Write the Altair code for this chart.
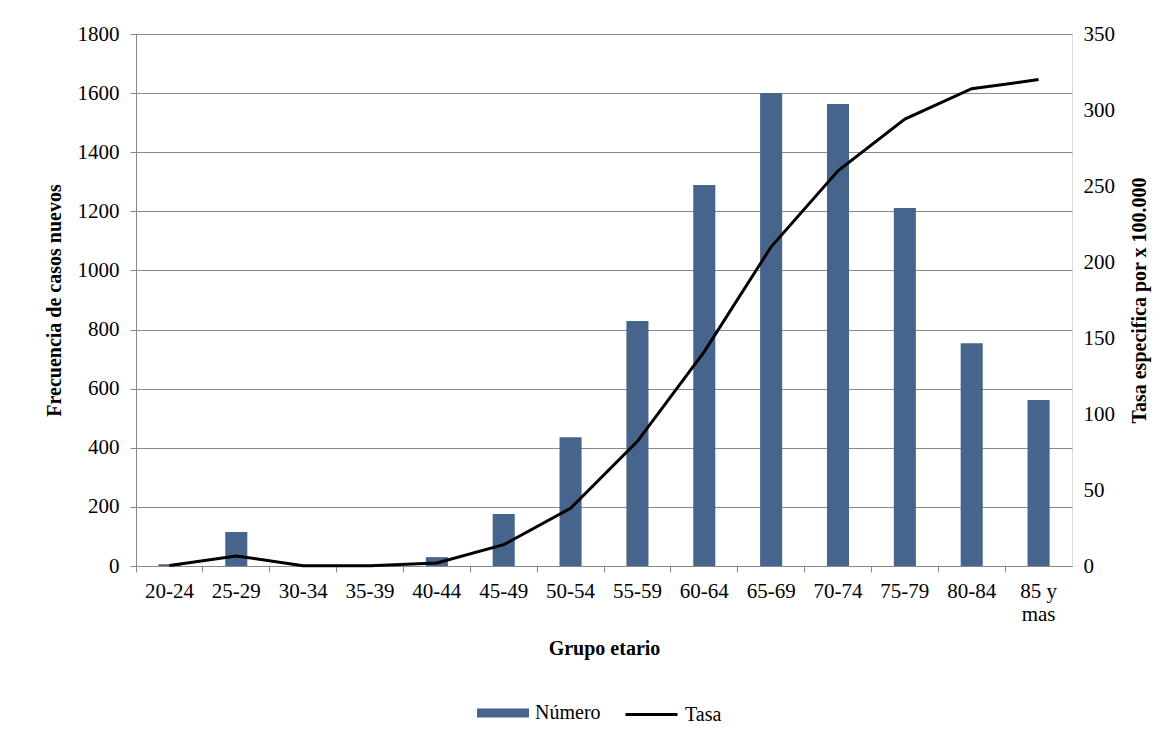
import altair as alt
import pandas as pd

grupos = ["20-24", "25-29", "30-34", "35-39", "40-44", "45-49", "50-54",
          "55-59", "60-64", "65-69", "70-74", "75-79", "80-84", "85 y mas"]
numero = [6, 115, 0, 0, 30, 176, 436, 829, 1289, 1600, 1563, 1211, 754, 562]
tasa = [0.3, 6.6, 0.2, 0.2, 2, 14, 38, 82, 141, 210, 260, 294, 314, 320]

df = pd.DataFrame({"grupo": grupos, "numero": numero, "tasa": tasa})

FONT = "Liberation Serif"
GRID = "#8a8a8a"
AZUL = "#46648C"
FS = 21
TS = 20

x = alt.X(
    "grupo:N", sort=grupos,
    scale=alt.Scale(paddingInner=0, paddingOuter=0),
    axis=alt.Axis(
        title="Grupo etario", labelAngle=0, bandPosition=0,
        labelExpr="datum.value == '85 y mas' ? ['85 y', 'mas'] : datum.value",
        labelFontSize=FS, labelPadding=8, labelLineHeight=23,
        titleFontSize=TS, titleFontWeight="bold", titlePadding=14,
        domainColor=GRID, tickColor=GRID, tickSize=6, labelColor="#000",
        titleColor="#000",
    ),
)

legend_common = dict(title=None, orient="none", direction="horizontal",
                     labelFontSize=TS, labelFont=FONT, labelColor="#000",
                     labelOffset=6, symbolSize=2704)

bars = alt.Chart(df).transform_calculate(serie="'Número'").mark_bar(
    width=alt.RelativeBandSize(0.33)).encode(
    x=x,
    y=alt.Y("numero:Q",
            scale=alt.Scale(domain=[0, 1800]),
            axis=alt.Axis(
                title="Frecuencia de casos nuevos",
                values=list(range(0, 1801, 200)), format="d",
                grid=True, gridColor=GRID, gridWidth=1.2,
                domainColor=GRID, tickColor=GRID, tickSize=6,
                labelFontSize=FS, labelPadding=11, labelColor="#000",
                titleFontSize=TS, titleFontWeight="bold", titlePadding=13,
                titleColor="#000",
            )),
    color=alt.Color("serie:N",
                    scale=alt.Scale(domain=["Número"], range=[AZUL]),
                    legend=alt.Legend(
                        legendX=341, legendY=653,
                        symbolType="M-1,-0.17H1V0.17H-1Z",
                        symbolStrokeWidth=0, symbolOpacity=1,
                        **legend_common)),
)

line = alt.Chart(df).transform_calculate(serie="'Tasa'").mark_line(
    strokeWidth=3, interpolate="linear").encode(
    x=x,
    y=alt.Y("tasa:Q",
            scale=alt.Scale(domain=[0, 350]),
            axis=alt.Axis(
                title="Tasa especifica por x 100.000", orient="right",
                values=list(range(0, 351, 50)),
                titleAngle=270, titleBaseline="top",
                grid=False, domain=False, ticks=False,
                labelFontSize=FS, labelPadding=11, labelColor="#000",
                titleFontSize=TS, titleFontWeight="bold", titlePadding=15,
                titleColor="#000",
            )),
    stroke=alt.Stroke("serie:N",
                      scale=alt.Scale(domain=["Tasa"], range=["#000000"]),
                      legend=alt.Legend(
                          legendX=488, legendY=653,
                          symbolType="stroke", symbolStrokeWidth=3,
                          **legend_common)),
)

chart = alt.layer(bars, line).resolve_scale(y="independent").properties(
    width=936, height=532,
    padding={"left": 36, "top": 15, "right": 5, "bottom": 5},
).configure_view(stroke=None).configure(
    font=FONT,
).configure_axis(labelFont=FONT, titleFont=FONT).configure_legend(
    labelFont=FONT)

chart.save("out.html", embed_options={"renderer": "svg", "actions": False})
